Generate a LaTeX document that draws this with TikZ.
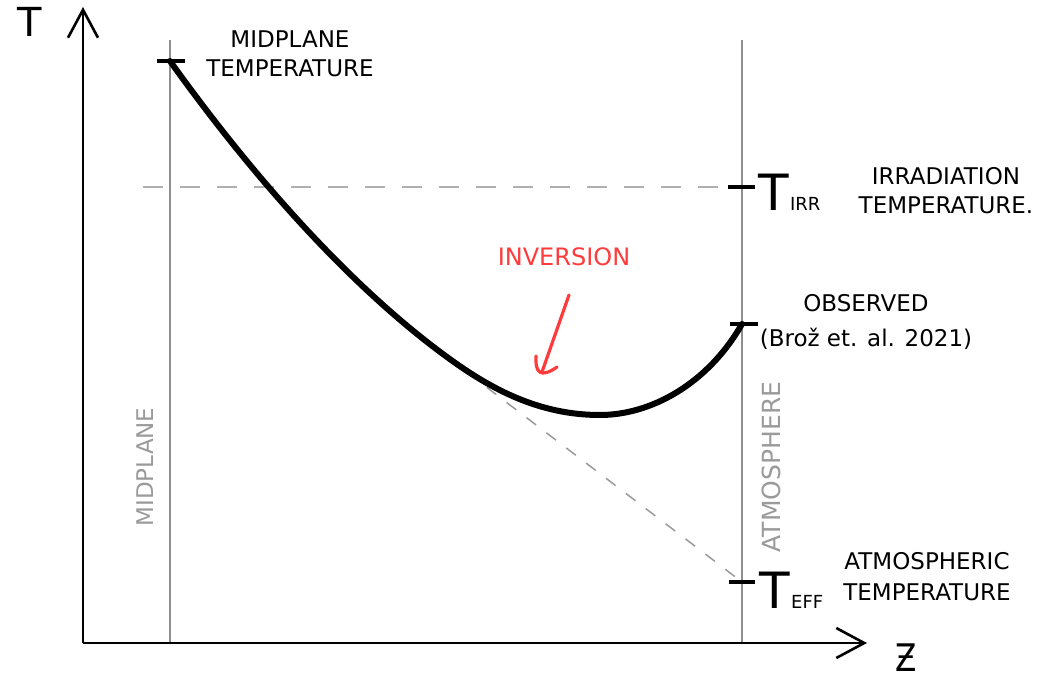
\documentclass[tikz,border=0pt]{standalone}
\usepackage{fontspec}
\setmainfont{DejaVu Sans}
\usetikzlibrary{arrows.meta}
\definecolor{guidegray}{HTML}{8E8E8E}
\definecolor{dashgray}{HTML}{B0B0B0}
\definecolor{dashgraytwo}{HTML}{999999}
\definecolor{textgray}{HTML}{9A9A9A}
\definecolor{invred}{HTML}{FF3B3B}
\begin{document}
\begin{tikzpicture}[x=1pt,y=-1pt,
  axis/.style={line width=2.8pt, -{Straight Barb[length=28pt,width=30pt,line width=2.6pt]}},
  guide/.style={line width=2.2pt, draw=guidegray},
  tickmark/.style={line width=3.2pt},
  tcurve/.style={line width=6pt, line cap=round},
  hdash/.style={line width=1.7pt, draw=dashgray, dash pattern=on 20pt off 17pt},
  sdash/.style={line width=1.5pt, draw=dashgraytwo, dash pattern=on 12pt off 13pt},
  lbl/.style={font=\fontsize{23}{29}\selectfont, align=center, inner sep=0pt},
  vlbl/.style={text=textgray, rotate=90, inner sep=0pt},
  bigT/.style={font=\fontsize{50}{50}\selectfont, inner sep=0pt, anchor=base west},
  subT/.style={font=\fontsize{18}{18}\selectfont, inner sep=0pt, anchor=base west},
  redarrow/.style={line width=3.2pt, draw=invred, line cap=round, line join=round}
]
\useasboundingbox (0,0) rectangle (1039,680);

% coordinates
\coordinate (O) at (83,643);
\coordinate (ytip) at (83,7);
\coordinate (xtip) at (867,643);
\coordinate (mtop) at (170,40);
\coordinate (mbot) at (170,643);
\coordinate (atop) at (742,40);
\coordinate (abot) at (742,643);
\coordinate (Tmid) at (170,61);
\coordinate (Tirr) at (742,187);
\coordinate (Tobs) at (742,324);
\coordinate (Teff) at (742,582);
\coordinate (tang) at (447,357);
\coordinate (tmin) at (600,415);
\coordinate (hstart) at (143,187);

% guide lines
\draw[guide] (mtop) -- (mbot);
\draw[guide] (atop) -- (abot);

% dashed lines
\draw[hdash] (hstart) -- (Tirr);
\draw[sdash] (tang) -- (Teff);

% axes
\draw[axis] (O) -- (ytip);
\draw[axis] (O) -- (xtip);

% temperature curve
\draw[tcurve] (Tmid) .. controls (258,184) and (355,290) .. (tang)
  .. controls (492,390) and (540,415) .. (tmin)
  .. controls (650,415) and (707,385) .. (Tobs);

% ticks
\draw[tickmark] ([xshift=-13pt]Tmid) -- ([xshift=15pt]Tmid);
\draw[tickmark] ([xshift=-14pt]Tirr) -- ([xshift=13pt]Tirr);
\draw[tickmark] ([xshift=-12pt]Tobs) -- ([xshift=16pt]Tobs);
\draw[tickmark] ([xshift=-13pt]Teff) -- ([xshift=13pt]Teff);

% axis labels
\node[inner sep=0pt, font=\fontsize{40}{40}\selectfont] (Tlab) at (30,22) {T};
\node[inner sep=0pt, anchor=base, font=\fontsize{38}{38}\selectfont] (Zlab) at (906,671) {\scalebox{0.82}[1]{Ƶ}};

% labels
\node[lbl] (midlab) at (290,54) {MIDPLANE\\TEMPERATURE};
\node[lbl] (irrlab) at (946,191) {IRRADIATION\\TEMPERATURE.};
\node[lbl, font=\fontsize{23}{35}\selectfont] (obslab) at (866,322) {OBSERVED\\(Brož et. al. 2021)};
\node[lbl, font=\fontsize{23}{31}\selectfont] (atmlab) at (927,577) {ATMOSPHERIC\\TEMPERATURE};

\node[bigT] (tirr) at (758,210) {T};
\node[subT] (tirrsub) at ([xshift=1pt]tirr.base east) {IRR};
\node[bigT] (teff) at (759,608) {T};
\node[subT] (teffsub) at ([xshift=1pt]teff.base east) {EFF};

\node[vlbl, font=\fontsize{23}{23}\selectfont] (midv) at (145,467) {MIDPLANE};
\node[vlbl, font=\fontsize{25}{25}\selectfont] (atmv) at (771,467) {ATMOSPHERE};

% inversion
\node[inner sep=0pt, text=invred, font=\fontsize{24}{24}\selectfont] (inv) at (564,257) {INVERSION};
\coordinate (ra) at (569,295);
\coordinate (rb) at (542,372);
\coordinate (rh1) at (536,356);
\coordinate (rh2) at (557,367);
\draw[redarrow] (ra) -- (rb);
\draw[redarrow] (rh1) .. controls (535,372) and (540,379) .. (rh2);
\end{tikzpicture}
\end{document}
